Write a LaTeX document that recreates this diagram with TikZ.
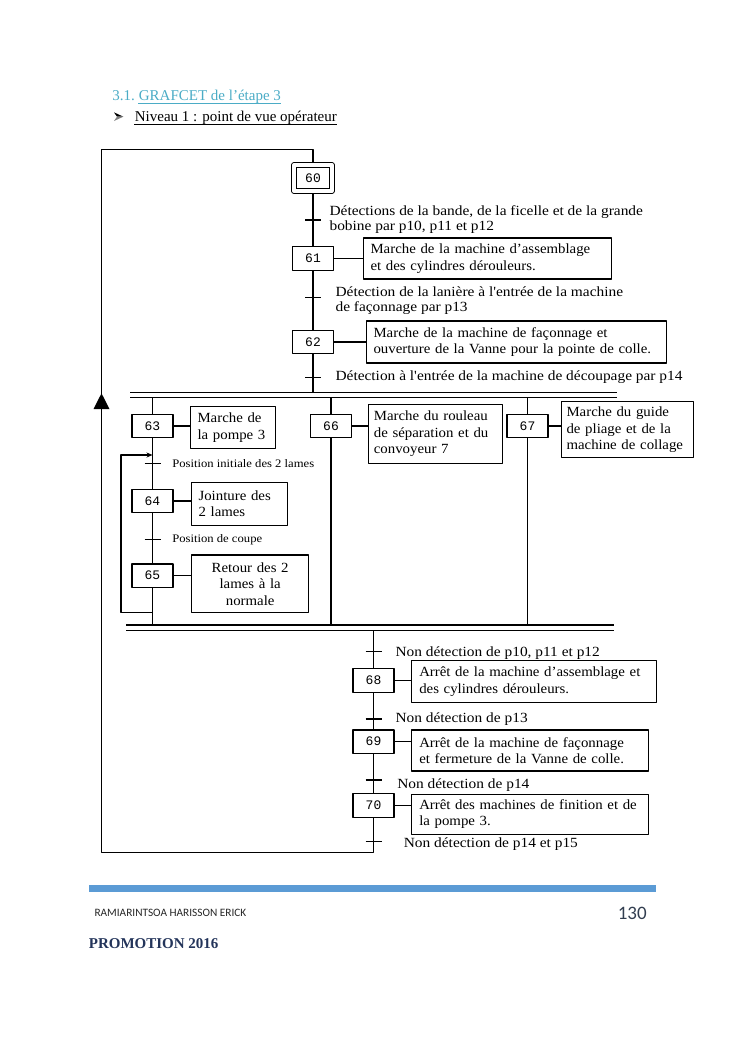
\documentclass[tikz,border=0pt]{standalone}
\usepackage{fontspec}
\setmainfont{Liberation Serif}
\newfontfamily\diagfont{Liberation Serif}[FakeStretch=1.10]
\newfontfamily\actionfont{Liberation Serif}[FakeStretch=1.06]
\newfontfamily\stepfont{Liberation Mono}
\newfontfamily\piedfont{Carlito}
\usetikzlibrary{arrows.meta}
\definecolor{titrebleu}{RGB}{75,172,198}
\definecolor{barrebleu}{RGB}{91,155,213}
\definecolor{promobleu}{RGB}{35,52,90}
\definecolor{numgris}{RGB}{50,62,80}
\begin{document}
\begin{tikzpicture}[x=1pt, y=-1pt, line join=round, >=Stealth, line width=1.1pt]
	\tikzset{etape/.style={draw, minimum width=41pt, minimum height=23.5pt, inner sep=0pt, font=\stepfont\fontsize{13}{13}\selectfont},
		etapeinit/.style={etape, double, double distance=3.4pt, outer sep=2.8pt, minimum width=37.8pt, minimum height=26.2pt},
		action/.style={draw, anchor=west, align=left, inner xsep=5pt, inner ysep=0pt, execute at begin node={\hyphenpenalty=10000}, font=\actionfont\fontsize{14}{16.5}\selectfont},
		recept/.style={anchor=west, align=left, inner sep=0pt, font=\diagfont\fontsize{14}{15}\selectfont},
		receptpetit/.style={recept, font=\diagfont\fontsize{11.5}{12}\selectfont},
		entete/.style={anchor=base west, inner sep=0pt, font=\fontsize{15}{18}\selectfont}}
	\useasboundingbox (0,0) rectangle (745,1053);
	%En-tête
	\node[entete, text=titrebleu] (num) at (111.7,100.7) {3.1.};
	\node[entete, text=titrebleu] (titre) at (138.3,100.7) {GRAFCET de l’étape 3};
	\draw[titrebleu, line width=0.7pt] ([yshift=-2.6pt]titre.base west) -- ([yshift=-2.6pt]titre.base east);
	\fill (114,112.3) -- (123.3,116.7) -- (117,116.7) -- cycle;
	\fill[gray] (117,116.7) -- (123.3,116.7) -- (114,121) -- cycle;
	\node[entete] (niveau) at (134.3,121.7) {Niveau 1 : point de vue opérateur};
	\draw[line width=0.7pt] ([yshift=-2.4pt]niveau.base west) -- ([yshift=-2.4pt]niveau.base east);
	%Étapes
	\node[etapeinit] (e60) at (313,178) {60};
	\node[etape] (e61) at (313,258.5) {61};
	\node[etape] (e62) at (313,342) {62};
	\node[etape] (e63) at (152.5,426) {63};
	\node[etape] (e64) at (152.5,501) {64};
	\node[etape] (e65) at (152.5,575.7) {65};
	\node[etape] (e66) at (331,426) {66};
	\node[etape] (e67) at (527.5,426) {67};
	\node[etape] (e68) at (373.5,680.3) {68};
	\node[etape] (e69) at (373.5,741.7) {69};
	\node[etape] (e70) at (373.5,805.3) {70};
	%Actions
	\node[action, text width=238pt, minimum height=41pt] (a61) at (363,258.5) {\hspace*{2pt}Marche de la machine d’assemblage\\\hspace*{2pt}et des cylindres dérouleurs.};
	\node[action, text width=290pt, minimum height=42pt] (a62) at (366,342) {\hspace*{2pt}Marche de la machine de façonnage et\\\hspace*{2pt}ouverture de la Vanne pour la pointe de colle.};
	\node[action, text width=74.5pt, minimum height=41.6pt] (a63) at (190,427.5) {\hspace*{2pt}Marche de\\\hspace*{2pt}la pompe 3};
	\node[action, text width=86.3pt, minimum height=42.7pt] (a64) at (191,503.7) {\hspace*{2pt}Jointure des\\\hspace*{2pt}2 lames};
	\node[action, text width=107.3pt, minimum height=57.7pt, align=center] (a65) at (191,583.8) {Retour des 2\\lames à la\\normale};
	\node[action, text width=124pt, minimum height=59pt] (a66) at (368.3,433.8) {Marche du rouleau\\de séparation et du\\convoyeur 7};
	\node[action, text width=122.3pt, minimum height=56pt] (a67) at (561,429.7) {Marche du guide\\de pliage et de la\\machine de collage};
	\node[action, text width=235.3pt, minimum height=42pt] (a68) at (410.7,681.7) {\hspace*{3pt}Arrêt de la machine d’assemblage et\\\hspace*{3pt}des cylindres dérouleurs.};
	\node[action, text width=227.6pt, minimum height=41pt] (a69) at (410.7,750.5) {\hspace*{3pt}Arrêt de la machine de façonnage\\\hspace*{3pt}et fermeture de la Vanne de colle.};
	\node[action, text width=227.6pt, minimum height=40pt] (a70) at (410.7,814.3) {\hspace*{3pt}Arrêt des machines de finition et de\\\hspace*{3pt}la pompe 3.};
	\foreach \n in {61,...,70} \draw (e\n.east) -- (e\n.east -| a\n.west);
	%Transitions
	\foreach \n/\x/\y in {60/313/220, 61/313/297.7, 62/313/377.3, 63/152.5/463.3, 64/152.5/539.3, 67/373.5/651.7, 68/373.5/719, 69/373.5/780, 70/373.5/841.7}{
		\coordinate (t\n) at (\x,\y);
		\draw ([xshift=-8pt]t\n) -- ([xshift=8pt]t\n);
	}
	\node[recept] (l60) at (329,220) {Détections de la bande, de la ficelle et de la grande\\bobine par p10, p11 et p12};
	\node[recept] (l61) at (335,300.5) {Détection de la lanière à l'entrée de la machine\\de façonnage par p13};
	\node[recept] (l62) at (335,377.3) {Détection à l'entrée de la machine de découpage par p14};
	\node[receptpetit] (l63) at (171.7,463.3) {Position initiale des 2 lames};
	\node[receptpetit] (l64) at (171.7,539.3) {Position de coupe};
	\node[recept] (l67) at (395,653.3) {Non détection de p10, p11 et p12};
	\node[recept] (l68) at (395,719.5) {Non détection de p13};
	\node[recept] (l69) at (396.7,785.5) {Non détection de p14};
	\node[recept] (l70) at (403.3,843.8) {Non détection de p14 et p15};
	%Divergence et convergence en ET
	\coordinate (dg1) at (130,392.7); \coordinate (dd1) at (617,392.7);
	\coordinate (dg1b) at (130,397.7); \coordinate (dd1b) at (617,397.7);
	\coordinate (dg2) at (126,625); \coordinate (dd2) at (614.3,625);
	\coordinate (dg2b) at (126,630.7); \coordinate (dd2b) at (614.3,630.7);
	\draw (dg1) -- (dd1) (dg1b) -- (dd1b) (dg2) -- (dd2) (dg2b) -- (dd2b);
	%Liaisons
	\draw (e60) -- (e61); \draw (e61) -- (e62); \draw (e62) -- (e62 |- dg1);
	\draw (e63 |- dg1b) -- (e63); \draw (e63) -- (e64); \draw (e64) -- (e65); \draw (e65) -- (e65 |- dg2);
	\draw (e66 |- dg1b) -- (e66); \draw (e66) -- (e66 |- dg2);
	\draw (e67 |- dg1b) -- (e67); \draw (e67) -- (e67 |- dg2);
	\draw (e68 |- dg2b) -- (e68); \draw (e68) -- (e69); \draw (e69) -- (e70);
	%Reprise des lames
	\coordinate (rb) at (121,612.3); \coordinate (rh) at (121,455);
	\draw[-{Stealth[length=6pt,width=5pt]}] (e65 |- rb) -- (rb) -- (rh) -- (rh -| e63);
	%Retour à l'étape initiale
	\coordinate (bas) at (101.5,852.5); \coordinate (haut) at (101.5,149.5);
	\draw (e70) -- (e70 |- bas) -- (bas) -- (haut) -- (haut -| e60) -- (e60);
	\fill (101.5,393.3) -- (93.5,409) -- (109.5,409) -- cycle;
	%Pied de page
	\fill[barrebleu] (88.5,885) rectangle (656,891.5);
	\node[anchor=west, inner sep=0pt, font=\piedfont\fontsize{11.3}{13}\selectfont, text=black!85] (auteur) at (94,913.3) {RAMIARINTSOA HARISSON ERICK};
	\node[anchor=east, inner sep=0pt, font=\piedfont\fontsize{19}{22}\selectfont, text=numgris] (page) at (647.3,913.3) {130};
	\node[entete, font=\bfseries\fontsize{15}{18}\selectfont, text=promobleu] (promo) at (88.3,948.3) {PROMOTION 2016};
\end{tikzpicture}
\end{document}
